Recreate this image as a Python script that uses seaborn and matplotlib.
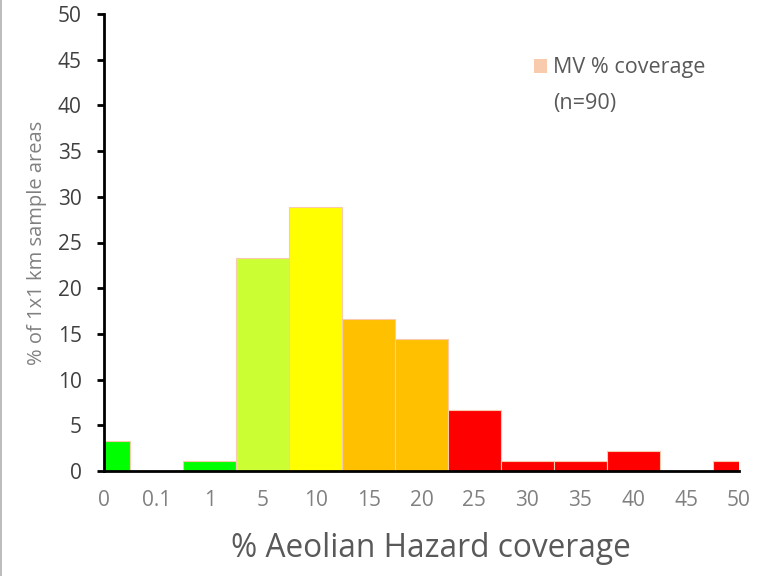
import matplotlib
matplotlib.use("Agg")
import matplotlib.pyplot as plt
import seaborn as sns
import pandas as pd
from matplotlib.patches import Patch
from matplotlib.lines import Line2D

categories = ["0", "0.1", "1", "5", "10", "15", "20", "25", "30", "35", "40", "45", "50"]
values = [3.33, 0, 1.11, 23.33, 28.89, 16.67, 14.44, 6.67, 1.11, 1.11, 2.22, 0, 1.11]
bar_colors = ["#00FF00", "#00FF00", "#00FF00", "#CCFF33", "#FFFF00", "#FFC000", "#FFC000",
              "#FF0000", "#FF0000", "#FF0000", "#FF0000", "#FF0000", "#FF0000"]
series_name = "MV % coverage"
note = "(n=90)"
x_label = "% Aeolian Hazard coverage"
y_label = "% of 1x1 km sample areas"
y_ticks = [0, 5, 10, 15, 20, 25, 30, 35, 40, 45, 50]

sns.set_theme(style="white")
plt.rcParams["font.family"] = ["Open Sans", "DejaVu Sans"]

df = pd.DataFrame({"cat": categories, "val": values})

fig = plt.figure(figsize=(7.69, 5.76), dpi=100)
ax = fig.add_axes([104/769, 1-471/576, (739-104)/769, (471-14)/576])

sns.barplot(data=df, x="cat", y="val", hue="cat", order=categories, hue_order=categories,
            palette=bar_colors, width=1.0, edgecolor="#F8CBAD", linewidth=0.8,
            saturation=1, legend=False, ax=ax)

ax.set_xlim(0, len(categories) - 1)
ax.set_ylim(0, 50)
ax.set_yticks(y_ticks)
ax.set_yticklabels([str(t) for t in y_ticks])

for s in ["top", "right"]:
    ax.spines[s].set_visible(False)
for s in ["left", "bottom"]:
    ax.spines[s].set_color("black")
    ax.spines[s].set_linewidth(2.0)

ax.tick_params(axis="y", direction="out", length=5, width=2, color="black",
               labelsize=15, labelcolor="#404040", pad=11, left=True)
ax.tick_params(axis="x", length=0, labelsize=15, labelcolor="#808080", pad=14)

ax.set_xlabel(x_label, fontsize=22.8, color="#595959", labelpad=15)
ax.xaxis.label.set_x((431 - 104) / 635)
ax.set_ylabel(y_label, fontsize=14.5, color="#808080", labelpad=8)

handle = Patch(facecolor="#F8CBAD", edgecolor="none", label=series_name)
leg = ax.legend(handles=[handle], loc="center left", bbox_to_anchor=(430/635, 1-(68-14)/457),
                frameon=False, fontsize=15.5, handlelength=0.6, handleheight=0.6,
                handletextpad=0.28, labelcolor="#595959", borderpad=0, borderaxespad=0)
fig.text(553/769, 1-104/576, note, fontsize=15.5, color="#595959", va="center", ha="left")

fig.add_artist(Line2D([0.001, 0.001], [0, 1], transform=fig.transFigure,
                      color="#B0B0B0", linewidth=1.2))

fig.savefig("out.png", dpi=100)
